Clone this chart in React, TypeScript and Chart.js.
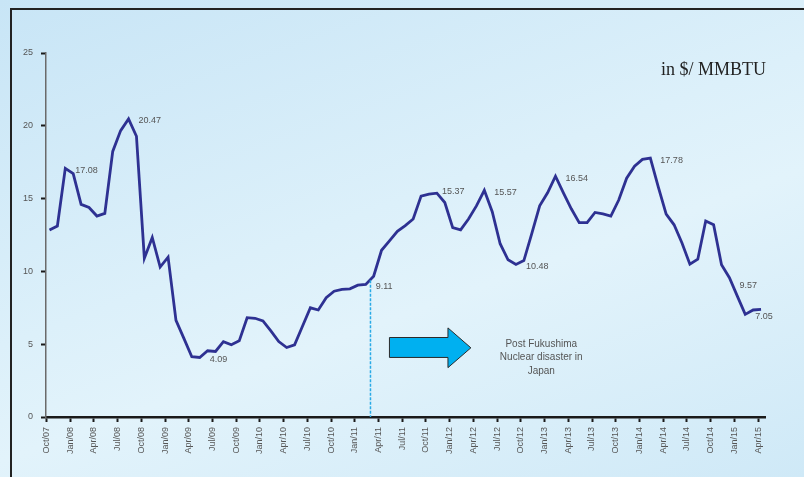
import React, { useEffect, useRef } from 'react';
import { Chart, registerables } from 'chart.js';

Chart.register(...registerables);

const TICK_LABELS = [
  'Oct/07', 'Jan/08', 'Apr/08', 'Jul/08', 'Oct/08', 'Jan/09', 'Apr/09', 'Jul/09', 'Oct/09',
  'Jan/10', 'Apr/10', 'Jul/10', 'Oct/10', 'Jan/11', 'Apr/11', 'Jul/11', 'Oct/11',
  'Jan/12', 'Apr/12', 'Jul/12', 'Oct/12', 'Jan/13', 'Apr/13', 'Jul/13', 'Oct/13',
  'Jan/14', 'Apr/14', 'Jul/14', 'Oct/14', 'Jan/15', 'Apr/15',
];

// Monthly LNG price, Oct/07 .. Apr/15 ($/MMBTU)
const PRICES_2007 = [12.84, 13.12, 17.08];
const PRICES_2008 = [16.71, 14.6, 14.39, 13.8, 13.98, 18.24, 19.67, 20.47, 19.28, 10.91, 12.33, 10.3];
const PRICES_2009 = [10.98, 6.64, 5.4, 4.14, 4.09, 4.55, 4.5, 5.18, 4.96, 5.23, 6.82, 6.78];
const PRICES_2010 = [6.6, 5.91, 5.18, 4.77, 4.96, 6.23, 7.5, 7.35, 8.19, 8.64, 8.76, 8.8];
const PRICES_2011 = [9.05, 9.11, 9.67, 11.45, 12.1, 12.75, 13.14, 13.6, 15.17, 15.3, 15.37, 14.73];
const PRICES_2012 = [13.0, 12.85, 13.6, 14.5, 15.57, 14.1, 11.9, 10.8, 10.48, 10.74, 12.6, 14.5];
const PRICES_2013 = [15.4, 16.54, 15.4, 14.3, 13.35, 13.35, 14.05, 13.95, 13.8, 14.9, 16.4, 17.22];
const PRICES_2014 = [17.69, 17.78, 15.8, 13.94, 13.2, 11.95, 10.5, 10.84, 13.46, 13.2, 10.46, 9.57];
const PRICES_2015 = [8.3, 7.05, 7.35, 7.39];

const PRICES = [
  ...PRICES_2007, ...PRICES_2008, ...PRICES_2009, ...PRICES_2010, ...PRICES_2011,
  ...PRICES_2012, ...PRICES_2013, ...PRICES_2014, ...PRICES_2015,
];

// Months (index from Oct/07) carrying a value callout, and the callout text
const CALLOUT_MONTHS = [2, 10, 19, 40, 49, 55, 59, 64, 76, 86, 88];
const CALLOUT_TEXT = ['17.08', '20.47', '4.09', '9.11', '15.37', '15.57', '10.48', '16.54', '17.78', '9.57', '7.05'];

const UNIT_TEXT = 'in $/ MMBTU';
const EVENT_LINES = ['Post Fukushima', 'Nuclear disaster in', 'Japan'];
const EVENT_MONTH = 40.6;

const FONT = '"Liberation Sans", Arial, sans-serif';

const annotations = {
  id: 'annotations',
  afterDatasetsDraw(chart: any) {
    const { ctx } = chart;
    const xs = chart.scales.x;
    const ys = chart.scales.y;
    ctx.save();

    // dotted event line
    ctx.strokeStyle = '#29aae6';
    ctx.lineWidth = 1.5;
    ctx.setLineDash([3, 1.5]);
    ctx.beginPath();
    const ex = xs.getPixelForValue(EVENT_MONTH);
    ctx.moveTo(ex, ys.getPixelForValue(9.4));
    ctx.lineTo(ex, ys.getPixelForValue(0));
    ctx.stroke();
    ctx.setLineDash([]);

    // callouts
    ctx.fillStyle = '#555';
    ctx.font = `9px ${FONT}`;
    ctx.textAlign = 'left';
    ctx.textBaseline = 'middle';
    CALLOUT_MONTHS.forEach((m, k) => {
      const x = xs.getPixelForValue(m);
      const y = ys.getPixelForValue(PRICES[m]);
      let dx = 10;
      let dy = 2;
      if (CALLOUT_TEXT[k] === '9.57') dy = 8;
      if (CALLOUT_TEXT[k] === '15.37') { dx = 5; dy = -2; }
      ctx.fillText(CALLOUT_TEXT[k], x + dx, y + dy);
    });

    // arrow
    const ax0 = xs.getPixelForValue(43.0);
    const ax1 = xs.getPixelForValue(50.4);
    const axt = xs.getPixelForValue(53.3);
    const sTop = ys.getPixelForValue(5.46);
    const sBot = ys.getPixelForValue(4.09);
    const hTop = ys.getPixelForValue(6.12);
    const hBot = ys.getPixelForValue(3.39);
    const tip = ys.getPixelForValue(4.75);
    ctx.beginPath();
    ctx.moveTo(ax0, sTop);
    ctx.lineTo(ax1, sTop);
    ctx.lineTo(ax1, hTop);
    ctx.lineTo(axt, tip);
    ctx.lineTo(ax1, hBot);
    ctx.lineTo(ax1, sBot);
    ctx.lineTo(ax0, sBot);
    ctx.closePath();
    ctx.fillStyle = '#00b0f0';
    ctx.fill();
    ctx.strokeStyle = '#2a2a2a';
    ctx.lineWidth = 1;
    ctx.stroke();

    // event text
    ctx.fillStyle = '#555';
    ctx.font = `10px ${FONT}`;
    ctx.textAlign = 'center';
    ctx.textBaseline = 'middle';
    const tx = xs.getPixelForValue(62.2);
    const ty = ys.getPixelForValue(4.09);
    EVENT_LINES.forEach((line, k) => {
      ctx.fillText(line, tx, ty + (k - 1) * 13.5);
    });

    // unit text
    ctx.fillStyle = '#222';
    ctx.font = '18px "Liberation Serif", "Times New Roman", serif';
    ctx.textAlign = 'left';
    ctx.textBaseline = 'alphabetic';
    ctx.fillText(UNIT_TEXT, 661, 75);

    ctx.restore();
  },
};

export default function App() {
  const ref = useRef<HTMLCanvasElement>(null);

  useEffect(() => {
    if (!ref.current) return;
    const chart = new Chart(ref.current, {
      type: 'line',
      data: {
        datasets: [
          {
            data: PRICES.map((v, i) => ({ x: i, y: v })),
            borderColor: '#2e3192',
            borderWidth: 2.8,
            pointRadius: 0,
            tension: 0,
            fill: false,
            borderJoinStyle: 'miter',
          } as any,
        ],
      },
      options: {
        animation: false,
        responsive: true,
        maintainAspectRatio: false,
        layout: { padding: { top: 53, right: 39, left: 0, bottom: 0 } },
        plugins: { legend: { display: false }, tooltip: { enabled: false } },
        scales: {
          x: {
            type: 'linear',
            min: -0.44,
            max: 90.5,
            afterBuildTicks: (scale: any) => {
              scale.ticks = TICK_LABELS.map((_, k) => ({ value: k * 3 - 0.38 }));
            },
            afterFit: (scale: any) => {
              scale.height = 60;
            },
            grid: {
              display: true,
              drawOnChartArea: false,
              drawTicks: true,
              tickLength: 5,
              tickColor: '#1a1a1a',
              tickWidth: 2,
            },
            border: { display: true, color: '#1a1a1a', width: 2.5 },
            ticks: {
              autoSkip: false,
              minRotation: 90,
              maxRotation: 90,
              padding: 5,
              color: '#555',
              font: { family: FONT, size: 9 },
              callback: (_v: any, idx: number) => TICK_LABELS[idx],
            },
          },
          y: {
            min: 0,
            max: 25,
            afterFit: (scale: any) => {
              scale.width = 46;
            },
            grid: {
              display: true,
              drawOnChartArea: false,
              drawTicks: true,
              tickLength: 5,
              tickColor: '#1a1a1a',
              tickWidth: 2,
            },
            border: { display: true, color: '#6a6a6a', width: 1.5 },
            ticks: {
              stepSize: 5,
              padding: 8,
              color: '#555',
              font: { family: FONT, size: 9 },
            },
          },
        },
      },
      plugins: [annotations],
    });
    return () => chart.destroy();
  }, []);

  return (
    <div
      style={{
        position: 'fixed',
        left: 0,
        top: 0,
        width: 804,
        height: 477,
        overflow: 'hidden',
        background: 'linear-gradient(160deg, #c8e5f6 0%, #dcf0fa 45%, #e2f3fb 60%, #cfe9f7 100%)',
      }}
    >
      <div
        style={{
          position: 'absolute',
          left: 10,
          top: 8,
          width: 800,
          height: 480,
          border: '2px solid #222',
          boxSizing: 'border-box',
        }}
      />
      <div style={{ position: 'absolute', left: 0, top: 0, width: 804, height: 477 }}>
        <canvas ref={ref} />
      </div>
    </div>
  );
}
